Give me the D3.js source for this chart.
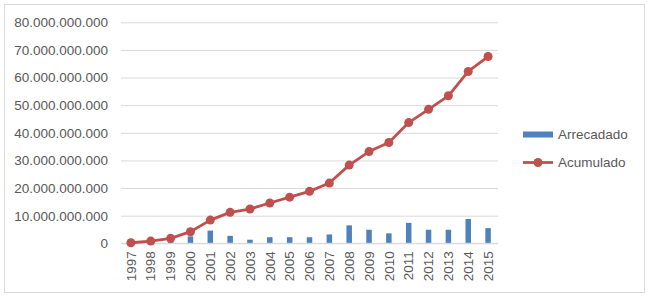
<!DOCTYPE html>
<html>
<head>
<meta charset="utf-8">
<script src="https://cdn.jsdelivr.net/npm/d3@7"></script>
<style>
  body { margin: 0; background: #fff; }
  text { font-family: "Liberation Sans", Arial, sans-serif; fill: #595959; }
</style>
</head>
<body>
<div id="chart"></div>
<script>
// Data (values in reais)
const years = ["1997","1998","1999","2000","2001","2002","2003","2004","2005","2006",
               "2007","2008","2009","2010","2011","2012","2013","2014","2015"];
const arrecadado = [0.2e9, 0.6e9, 1.0e9, 2.5e9, 4.6e9, 2.7e9, 1.3e9, 2.2e9, 2.2e9, 2.2e9,
                    3.2e9, 6.5e9, 4.9e9, 3.6e9, 7.4e9, 4.9e9, 4.9e9, 8.8e9, 5.5e9];
const acumulado = [0.2e9, 0.8e9, 1.8e9, 4.2e9, 8.4e9, 11.2e9, 12.4e9, 14.6e9, 16.7e9, 18.8e9,
                   21.8e9, 28.3e9, 33.2e9, 36.5e9, 43.7e9, 48.5e9, 53.4e9, 62.2e9, 67.6e9];
const yTicks = [0, 10e9, 20e9, 30e9, 40e9, 50e9, 60e9, 70e9, 80e9];
const seriesNames = ["Arrecadado", "Acumulado"];

const W = 650, H = 299;
const blue = "#4F81BD", red = "#C0504D";

const svg = d3.select("#chart").append("svg")
  .attr("width", W)
  .attr("height", H);

// Chart frame
svg.append("rect")
  .attr("x", 4.5).attr("y", 4.5)
  .attr("width", 640).attr("height", 288)
  .attr("fill", "#fff")
  .attr("stroke", "#D9D9D9");

// Scales
const xScale = d3.scaleBand()
  .domain(years)
  .range([121, 498]);

const yScale = d3.scaleLinear()
  .domain([0, 80e9])
  .range([243.3, 22.3]);

const fmt = d => d === 0 ? "0" : d3.format(",")(d).replace(/,/g, ".");

// Y axis with gridlines
const yAxis = svg.append("g")
  .attr("transform", "translate(121,0)")
  .call(d3.axisLeft(yScale).tickValues(yTicks).tickFormat(fmt)
        .tickSize(-(498 - 121)).tickPadding(13));
yAxis.select(".domain").remove();
yAxis.selectAll(".tick line").attr("stroke", "#D9D9D9");
yAxis.selectAll(".tick text")
  .style("font-size", "13.5px")
  .style("font-family", "'Liberation Sans', Arial, sans-serif")
  .attr("fill", "#595959");

// Bars (Arrecadado)
const barW = 5.5;
svg.append("g")
  .selectAll("rect")
  .data(years)
  .enter()
  .append("rect")
  .attr("x", (d) => xScale(d) + xScale.bandwidth() / 2 - barW / 2)
  .attr("y", (d, i) => yScale(arrecadado[i]))
  .attr("width", barW)
  .attr("height", (d, i) => yScale(0) - yScale(arrecadado[i]))
  .attr("fill", blue);

// Baseline
svg.append("line")
  .attr("x1", 121).attr("x2", 498)
  .attr("y1", yScale(0)).attr("y2", yScale(0))
  .attr("stroke", "#D9D9D9");

// X axis labels (rotated)
const xAxis = svg.append("g")
  .attr("transform", "translate(0," + yScale(0) + ")")
  .call(d3.axisBottom(xScale).tickSize(0).tickPadding(0));
xAxis.select(".domain").remove();
xAxis.selectAll(".tick text")
  .style("font-size", "13.5px")
  .style("font-family", "'Liberation Sans', Arial, sans-serif")
  .attr("fill", "#595959")
  .attr("transform", "rotate(-90)")
  .attr("text-anchor", "end")
  .attr("x", -8)
  .attr("y", 0)
  .attr("dy", "0.35em");

// Line (Acumulado)
const line = d3.line()
  .x((d, i) => xScale(years[i]) + xScale.bandwidth() / 2)
  .y(d => yScale(d));

svg.append("path")
  .datum(acumulado)
  .attr("d", line)
  .attr("fill", "none")
  .attr("stroke", red)
  .attr("stroke-width", 2.8)
  .attr("stroke-linejoin", "round");

svg.append("g")
  .selectAll("circle")
  .data(acumulado)
  .enter()
  .append("circle")
  .attr("cx", (d, i) => xScale(years[i]) + xScale.bandwidth() / 2)
  .attr("cy", d => yScale(d))
  .attr("r", 4.5)
  .attr("fill", red);

// Legend
const legend = svg.append("g");
legend.append("rect")
  .attr("x", 523).attr("y", 131.5)
  .attr("width", 30).attr("height", 6)
  .attr("fill", blue);
legend.append("text")
  .attr("x", 558).attr("y", 134.5).attr("dy", "0.35em")
  .style("font-size", "13.5px")
  .text(seriesNames[0]);

legend.append("line")
  .attr("x1", 523).attr("x2", 553)
  .attr("y1", 162.5).attr("y2", 162.5)
  .attr("stroke", red).attr("stroke-width", 2.8);
legend.append("circle")
  .attr("cx", 538).attr("cy", 162.5).attr("r", 4.5)
  .attr("fill", red);
legend.append("text")
  .attr("x", 558).attr("y", 162.5).attr("dy", "0.35em")
  .style("font-size", "13.5px")
  .text(seriesNames[1]);
</script>
</body>
</html>
